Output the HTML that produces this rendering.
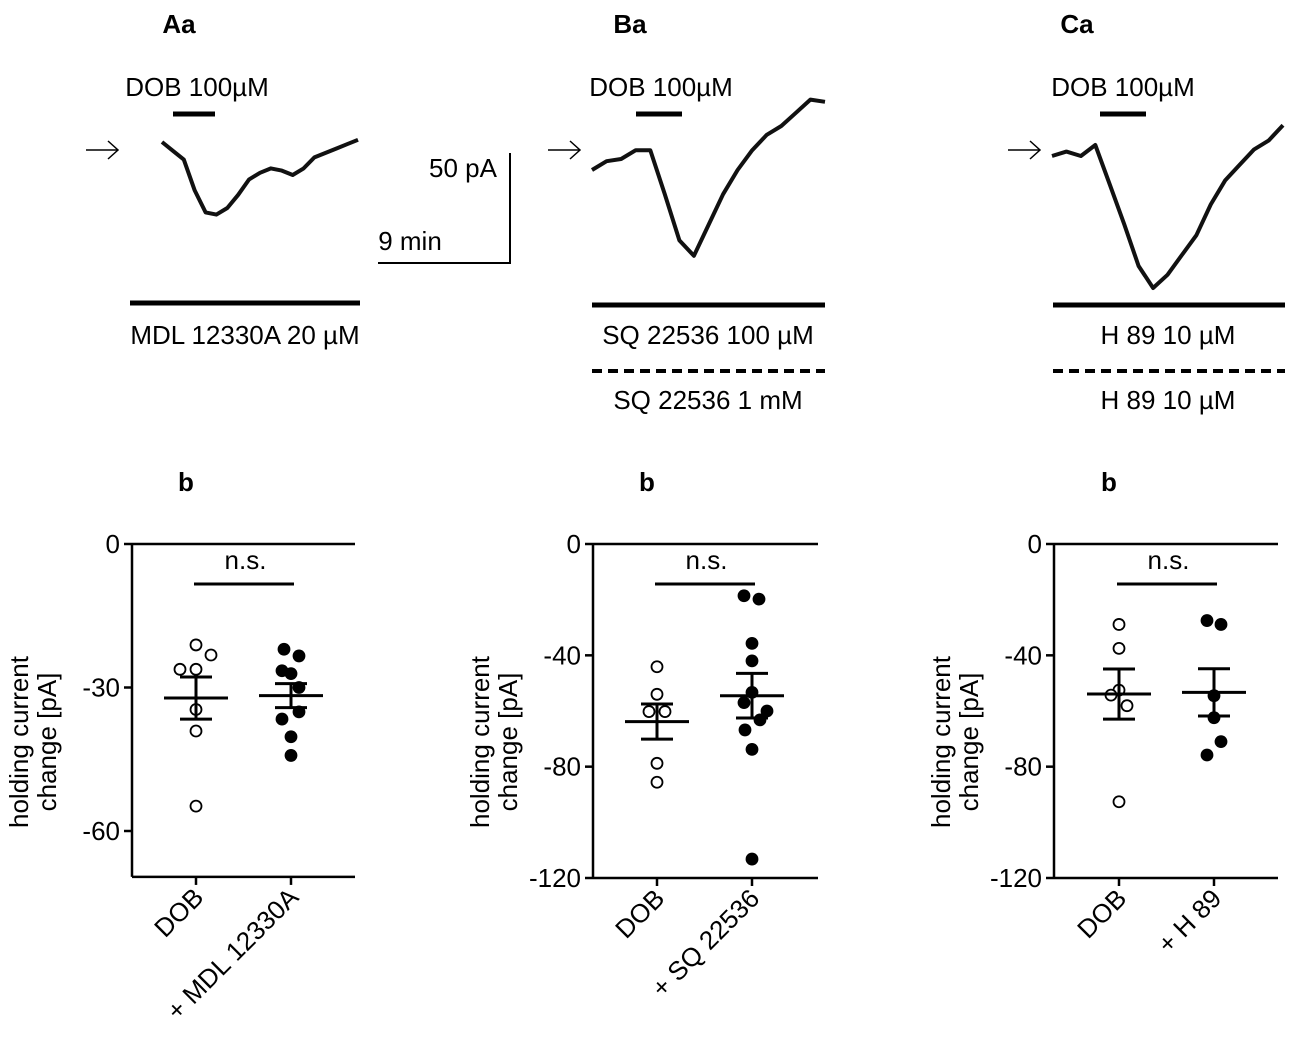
<!DOCTYPE html>
<html><head><meta charset="utf-8"><style>
body{margin:0;background:#fff}
svg{display:block;font-family:"Liberation Sans",sans-serif}
</style></head><body>
<svg id="fig" width="1299" height="1048" viewBox="0 0 1299 1048">
<g id="topg"></g>
<g id="botg"></g>
</svg>
<script>
// ---- data ----
const categoriesA = ["DOB", "+ MDL 12330A"];
const dobA = [-21.1, -23.2, -26.2, -26.2, -34.6, -39.1, -54.8];
const drugA = [-22, -23.4, -26.5, -27.1, -30, -35.1, -36.6, -40.3, -44.2];
const meanA = [-32.2, -31.7];
const semA = [4.4, 2.5];
const ticksA = [0, -30, -60];

const categoriesB = ["DOB", "+ SQ 22536"];
const dobB = [-44.1, -54, -60.2, -60.2, -78.8, -85.6];
const drugB = [-18.6, -19.8, -35.7, -42, -53.3, -57, -60, -63.2, -66.8, -73.8, -113.2];
const meanB = [-63.8, -54.5];
const semB = [6.3, 8];
const ticksB = [0, -40, -80, -120];

const categoriesC = ["DOB", "+ H 89"];
const dobC = [-28.9, -37.5, -52.5, -54.3, -58.1, -92.6];
const drugC = [-27.5, -28.9, -54.5, -62.4, -71, -75.8];
const meanC = [-53.9, -53.3];
const semC = [9, 8.5];
const ticksC = [0, -40, -80, -120];

// trace samples (current in pA relative to baseline)
const traceA = [0,-4,-8,-22,-32,-33,-30,-24,-17,-14,-12,-13,-15,-12,-7,-5,-3,-1,1];
const traceB = [-10,-6,-5,-1,-1,-21,-42,-49,-35,-21,-10,-1,6,10,16,22,21];
const traceC = [0,2,0,5,-13,-31,-50,-60,-54,-45,-36,-22,-11,-4,3,7,14];

// ---- helpers ----
const NS = "http://www.w3.org/2000/svg";
function el(tag, attrs, parent, txt){
  const e = document.createElementNS(NS, tag);
  for (const k in attrs) e.setAttribute(k, attrs[k]);
  if (txt !== undefined) e.textContent = txt;
  parent.appendChild(e);
  return e;
}
const topG = document.getElementById('topg');
const botG = document.getElementById('botg');
const FS = 26;

function label(x, y, s, size, parent, name, weight, anchor){
  const t = el('text', {x:x, y:y, 'font-size':size, 'text-anchor':anchor||'middle', 'font-weight':weight||'normal'}, parent, s);
  
  
  return t;
}
function line(x1,y1,x2,y2,w,parent,name,dash){
  const l = el('line',{x1:x1,y1:y1,x2:x2,y2:y2,stroke:'#000','stroke-width':w}, parent);
  if (dash) l.setAttribute('stroke-dasharray', dash);
  
  
  return l;
}

// ---- traces ----
function trace(data, x0, x1, y0, scale, name){
  const n = data.length;
  const pts = data.map((v,i)=> (x0 + (x1-x0)*i/(n-1)).toFixed(1) + ',' + (y0 - v*scale).toFixed(1)).join(' ');
  const p = el('polyline',{points:pts, fill:'none', stroke:'#111', 'stroke-width':4, 'stroke-linejoin':'round'}, topG);
  
  
}
const pA = 2.2;
trace(traceA, 162, 358, 142, pA, 'trace-a');
trace(traceB, 592, 825, 148, pA, 'trace-b');
trace(traceC, 1052, 1283, 156, pA, 'trace-c');

function arrow(x, y, name){
  const g = el('g',{}, topG);
  
  
  el('line',{x1:x,y1:y,x2:x+32,y2:y,stroke:'#000','stroke-width':1.5}, g);
  el('polyline',{points:(x+22)+','+(y-9)+' '+(x+32)+','+y+' '+(x+22)+','+(y+9),fill:'none',stroke:'#000','stroke-width':1.5}, g);
}
arrow(86,150,'baseline-arrow-a'); arrow(548,150,'baseline-arrow-b'); arrow(1008,150,'baseline-arrow-c');

label(179,33,'Aa',26,topG,'panel-label-aa','bold');
label(630,33,'Ba',26,topG,'panel-label-ba','bold');
label(1077,33,'Ca',26,topG,'panel-label-ca','bold');

label(197,96,'DOB 100µM',FS,topG,'dob-label-a'); line(173,114,215,114,5,topG,'dob-bar-a');
label(661,96,'DOB 100µM',FS,topG,'dob-label-b'); line(636,114,682,114,5,topG,'dob-bar-b');
label(1123,96,'DOB 100µM',FS,topG,'dob-label-c'); line(1100,114,1146,114,5,topG,'dob-bar-c');

line(510,153,510,264,2,topG,'scale-bar-current');
line(378,263,511,263,2,topG,'scale-bar-time');
label(463,177,'50 pA',FS,topG,'scale-label-current');
label(410,250,'9 min',FS,topG,'scale-label-time');

line(130,303,360,303,5,topG,'drug-bar-a');
label(245,344,'MDL 12330A 20 µM',FS,topG,'drug-label-a');
line(592,305,825,305,5,topG,'drug-bar-b');
label(708,344,'SQ 22536 100 µM',FS,topG,'drug-label-b');
line(592,371,825,371,4,topG,'drug-bar-b2','10,6');
label(708,409,'SQ 22536 1 mM',FS,topG,'drug-label-b2');
line(1053,305,1285,305,5,topG,'drug-bar-c');
label(1168,344,'H 89 10 µM',FS,topG,'drug-label-c');
line(1053,371,1285,371,4,topG,'drug-bar-c2','10,6');
label(1168,409,'H 89 10 µM',FS,topG,'drug-label-c2');

// ---- scatter panels ----
function panel(o){
  const g = el('g',{}, botG);
  
  
  const y = v => o.y0 + v * (o.yMinPx - o.y0) / o.yMin;
  const yBottom = y(o.axisMin);
  line(o.left, o.y0, o.left, yBottom, 2.5, g, 'y-axis');
  line(o.left, o.y0, o.right, o.y0, 2.5, g, 'zero-line');
  line(o.left, yBottom, o.right, yBottom, 2.5, g, 'x-axis');
  o.ticks.forEach(t=>{
    line(o.left-8, y(t), o.left, y(t), 2.5, g, 'y-tick');
    label(o.left-12, y(t)+9, String(t), FS, g, 'y-tick-label', 'normal', 'end');
  });
  const yt = el('text',{x:0,y:0,'font-size':FS,'text-anchor':'middle',transform:'translate('+(o.left-104)+','+(o.y0+198)+') rotate(-90)'}, g);
  
  
  el('tspan',{x:0,dy:0},yt,'holding current');
  el('tspan',{x:0,dy:28},yt,'change [pA]');
  label((o.xs[0]+o.xs[1])/2+2, 569, 'n.s.', FS, g, 'significance-label');
  line(o.xs[0]-2, 584, o.xs[1]+3, 584, 3, g, 'significance-bar');
  label(o.xs[0]-10, o.y0-53, 'b', 26, g, 'panel-label-b', 'bold');
  o.cats.forEach((c,i)=>{
    line(o.xs[i], yBottom, o.xs[i], yBottom+8, 2.5, g, 'x-tick');
    const t = el('text',{x:0,y:0,'font-size':FS,'text-anchor':'end',transform:'translate('+(o.xs[i]+9)+','+(yBottom+22)+') rotate(-45)'}, g, c);
    
    
  });
  [o.dob, o.drug].forEach((arr, i)=>{
    arr.forEach((v,j)=>{
      const off = o.jit[i][j] || 0;
      const c = el('circle',{cx:o.xs[i]+off, cy:y(v), r:5.5, fill: i? '#000':'#fff', stroke:'#000','stroke-width':1.8}, g);
      
      
    });
    const m = o.mean[i], s = o.sem[i];
    line(o.xs[i]-32, y(m), o.xs[i]+32, y(m), 3, g, 'mean-line');
    line(o.xs[i], y(m+s), o.xs[i], y(m-s), 3, g, 'sem-bar');
    line(o.xs[i]-16, y(m+s), o.xs[i]+16, y(m+s), 3, g, 'sem-cap');
    line(o.xs[i]-16, y(m-s), o.xs[i]+16, y(m-s), 3, g, 'sem-cap');
  });
}
panel({name:'panel-ab', left:132, right:355, y0:544, yMin:-60, yMinPx:831, axisMin:-69.6, xs:[196,291],
  ticks:ticksA, cats:categoriesA, dob:dobA, drug:drugA, mean:meanA, sem:semA,
  jit:[[0,15,-16,0,0,0,0],[-7,8,-9,0,8,8,-9,0,0]]});
panel({name:'panel-bb', left:593, right:818, y0:544, yMin:-120, yMinPx:878, axisMin:-120, xs:[657,752],
  ticks:ticksB, cats:categoriesB, dob:dobB, drug:drugB, mean:meanB, sem:semB,
  jit:[[0,0,-8,8,0,0],[-8,7,0,0,0,-8,15,8,-7,0,0]]});
panel({name:'panel-cb', left:1054, right:1278, y0:544, yMin:-120, yMinPx:878, axisMin:-120, xs:[1119,1214],
  ticks:ticksC, cats:categoriesC, dob:dobC, drug:drugC, mean:meanC, sem:semC,
  jit:[[0,0,0,-8,8,0],[-7,7,0,0,7,-7]]});
</script>
</body></html>
